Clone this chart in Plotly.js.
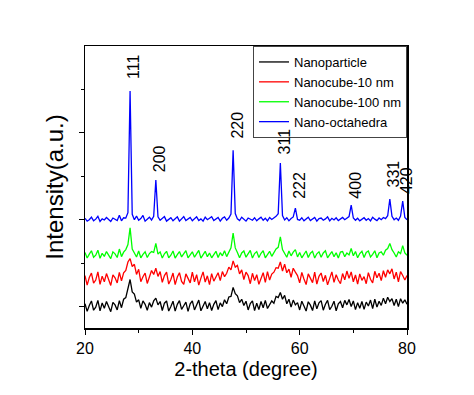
<!DOCTYPE html>
<html>
<head>
<meta charset="utf-8">
<script src="https://cdn.plot.ly/plotly-3.0.1.min.js"></script>
<style>html,body{margin:0;padding:0;background:#fff;}#chart{width:474px;height:395px;}</style>
</head>
<body>
<div id="chart"></div>
<script>
// 2-theta sampling (degrees)
var twoTheta = [
 20.0,20.4,20.8,21.2,21.6,22.0,22.4,22.8,23.2,23.6,
 24.0,24.4,24.8,25.2,25.6,26.0,26.4,26.8,27.2,27.6,
 28.0,28.4,28.8,29.2,29.6,30.0,30.4,30.8,31.2,31.6,
 32.0,32.4,32.8,33.2,33.6,34.0,34.4,34.8,35.2,35.6,
 36.0,36.4,36.8,37.2,37.6,38.0,38.4,38.8,39.2,39.6,
 40.0,40.4,40.8,41.2,41.6,42.0,42.4,42.8,43.2,43.6,
 44.0,44.4,44.8,45.2,45.6,46.0,46.4,46.8,47.2,47.6,
 48.0,48.4,48.8,49.2,49.6,50.0,50.4,50.8,51.2,51.6,
 52.0,52.4,52.8,53.2,53.6,54.0,54.4,54.8,55.2,55.6,
 56.0,56.4,56.8,57.2,57.6,58.0,58.4,58.8,59.2,59.6,
 60.0,60.4,60.8,61.2,61.6,62.0,62.4,62.8,63.2,63.6,
 64.0,64.4,64.8,65.2,65.6,66.0,66.4,66.8,67.2,67.6,
 68.0,68.4,68.8,69.2,69.6,70.0,70.4,70.8,71.2,71.6,
 72.0,72.4,72.8,73.2,73.6,74.0,74.4,74.8,75.2,75.6,
 76.0,76.4,76.8,77.2,77.6,78.0,78.4,78.8,79.2,79.6,
 80.0
];

var nanoparticle = [
 8.6,5.9,8.0,9.6,6.3,7.4,9.8,6.1,8.9,7.0,
 9.4,7.6,5.8,9.1,8.2,6.4,9.7,7.2,10.2,10.8,
 14.2,17.2,12.8,12.0,9.2,10.0,7.0,9.6,8.4,6.3,
 9.0,7.4,9.6,10.6,8.2,9.4,6.2,8.8,9.6,6.0,
 7.6,9.5,6.0,8.4,9.7,6.6,7.9,9.2,5.9,8.6,
 9.6,6.4,8.2,9.9,6.1,7.5,9.4,6.8,9.0,6.2,
 8.4,9.7,6.5,8.9,7.6,10.0,8.6,11.0,11.2,14.4,
 12.2,11.4,9.0,10.2,8.0,9.5,6.4,8.7,9.6,6.2,
 8.8,6.5,9.4,7.2,9.8,6.9,8.4,9.6,8.8,11.2,
 10.8,12.6,10.2,11.6,8.6,10.2,7.4,9.9,8.2,9.0,
 6.4,9.5,7.8,6.0,9.3,8.1,6.2,9.6,6.8,8.9,
 9.7,6.3,8.4,9.8,6.5,7.7,9.5,6.1,8.6,9.4,
 7.2,9.8,8.2,10.1,7.6,9.6,6.5,9.0,7.0,9.4,
 6.6,9.2,7.8,9.9,6.9,10.2,7.4,9.5,8.0,10.6,
 8.6,10.9,9.4,10.4,8.0,10.2,7.6,10.4,8.8,10.0,
 8.4
];

var nanocube10 = [
 18.6,15.2,17.9,19.5,15.9,17.0,19.9,15.5,18.4,16.4,
 19.3,17.3,15.1,18.8,17.8,16.0,19.7,16.7,19.6,20.4,
 23.4,24.6,21.8,22.6,19.0,20.8,16.4,18.2,19.5,15.8,
 18.0,20.4,19.0,21.2,18.3,20.0,16.2,18.6,19.8,15.6,
 17.2,19.5,15.4,18.1,19.6,16.5,15.5,19.2,17.6,16.0,
 19.8,16.4,18.9,15.2,17.7,19.9,16.3,18.5,15.4,19.3,
 16.6,18.0,19.6,16.8,20.0,18.2,19.4,21.6,20.6,23.8,
 21.6,22.2,19.2,20.6,17.2,19.8,18.6,15.7,19.4,16.8,
 18.9,15.5,17.4,19.6,16.2,20.0,17.0,19.1,19.8,21.4,
 21.2,23.4,20.2,22.6,19.6,20.9,18.0,21.2,19.8,18.6,
 16.0,19.7,17.4,15.4,19.2,17.9,16.1,19.8,15.6,18.3,
 19.5,16.5,18.7,15.3,17.8,19.9,16.2,18.9,17.0,15.7,
 19.3,17.1,20.2,17.6,19.9,16.4,18.8,15.6,19.2,16.9,
 18.2,15.7,19.6,17.3,16.0,20.1,17.8,19.4,16.8,20.3,
 18.0,20.6,19.2,21.0,17.4,19.8,16.4,20.0,18.6,17.0,
 18.6
];

var nanocube100 = [
 26.8,24.8,26.2,27.4,25.1,25.8,27.6,24.7,26.5,25.4,
 27.1,25.9,24.6,27.0,26.3,25.0,28.0,25.3,26.9,27.8,
 29.6,35.5,28.0,26.6,25.2,27.3,24.9,26.1,27.0,25.0,
 26.4,27.1,26.8,30.0,26.2,27.0,24.8,26.3,27.2,24.9,
 25.8,27.3,24.8,26.0,27.1,25.2,26.5,27.4,24.9,26.2,
 27.0,25.1,26.4,27.5,24.8,25.9,27.2,25.3,26.6,24.9,
 26.3,27.2,25.0,26.7,25.6,27.4,25.3,27.0,28.4,33.7,
 28.4,26.8,24.9,26.6,27.3,25.1,26.2,27.5,24.8,26.4,
 27.1,25.0,26.5,27.4,24.9,26.0,27.2,25.4,26.6,28.0,
 28.6,32.3,27.8,26.4,25.1,27.3,25.6,26.9,27.8,25.2,
 26.8,24.9,26.1,27.3,25.0,26.5,27.2,24.8,26.3,27.0,
 25.1,26.6,27.4,24.9,26.0,27.1,25.3,26.7,24.8,26.9,
 27.1,25.3,26.6,25.9,28.2,25.6,27.1,24.9,26.4,27.2,
 25.0,26.8,27.3,25.2,26.1,27.4,24.9,26.6,27.0,25.8,
 27.6,28.2,30.0,27.8,26.6,25.2,27.0,26.4,29.2,26.6,
 25.8
];

var nanoOctahedra = [
 38.9,37.9,38.4,39.3,38.0,38.6,39.6,37.8,38.7,38.3,
 39.2,38.5,37.8,39.0,38.6,38.1,40.0,38.0,39.1,39.0,
 40.9,84.0,40.3,38.4,39.7,38.2,38.8,39.9,37.9,38.7,
 39.3,38.3,39.6,52.5,39.4,38.2,38.9,39.5,37.9,38.6,
 39.1,38.0,38.6,39.4,37.9,38.8,39.5,38.1,38.5,39.2,
 38.0,38.9,39.4,38.1,38.7,37.9,39.3,38.4,38.8,39.5,
 38.1,38.6,39.2,37.9,38.9,39.4,38.2,39.0,40.4,63.0,
 40.6,38.7,38.1,39.3,38.5,37.9,39.0,38.6,38.2,39.1,
 38.0,38.7,39.3,38.2,38.9,38.0,39.2,38.5,39.0,39.6,
 40.5,58.5,39.9,38.3,39.1,38.0,38.8,39.4,42.5,38.5,
 38.2,39.1,38.0,38.7,39.3,38.1,38.6,39.2,37.9,38.8,
 39.0,38.2,38.7,39.4,38.0,38.9,38.3,39.1,38.1,38.6,
 39.2,38.4,38.9,39.5,43.6,39.0,38.2,38.9,38.0,38.7,
 39.1,38.2,38.8,38.0,39.3,38.6,38.1,39.0,38.4,39.2,
 38.8,39.8,45.7,39.6,38.4,39.0,38.2,39.7,45.0,39.2,
 38.4
];

var seriesNames = ['Nanoparticle', 'Nanocube-10 nm', 'Nanocube-100 nm', 'Nano-octahedra'];
var seriesColors = ['#000000', '#ff0000', '#00ff00', '#0000ff'];

// Miller-index labels above the nano-octahedra peaks
var peakLabels = ['111', '200', '220', '311', '222', '400', '331', '420'];
var peakPos    = [28.4, 33.2, 47.6, 56.4, 59.2, 69.6, 76.8, 79.2];
var labelBase  = [88.0, 55.0, 66.7, 61.3, 45.4, 45.4, 49.6, 47.2];

var ys = [nanoparticle, nanocube10, nanocube100, nanoOctahedra];
var traces = ys.map(function (y, k) {
  return {
    type: 'scatter', mode: 'lines', x: twoTheta, y: y, name: seriesNames[k],
    line: {color: seriesColors[k], width: 1.3}
  };
});

var annFont = {family: 'Liberation Sans, Arial, sans-serif', size: 16, color: '#000'};
var annotations = peakLabels.map(function (t, i) {
  return {
    x: peakPos[i], y: labelBase[i], xref: 'x', yref: 'y', text: t,
    showarrow: false, textangle: -90, xanchor: 'center', yanchor: 'bottom',
    xshift: 4, borderpad: 0, font: annFont
  };
});

var layout = {
  width: 474, height: 395,
  margin: {l: 85, r: 67, t: 46, b: 67},
  paper_bgcolor: '#fff', plot_bgcolor: '#fff',
  showlegend: true,
  legend: {
    x: 1, y: 1, xanchor: 'right', yanchor: 'top',
    bgcolor: '#fff', bordercolor: '#444', borderwidth: 1,
    font: {family: 'Liberation Sans, Arial, sans-serif', size: 13, color: '#000'},
    tracegroupgap: 0, itemwidth: 30
  },
  xaxis: {
    range: [20, 80], tickmode: 'linear', tick0: 20, dtick: 20,
    ticks: 'outside', ticklen: 5, tickwidth: 1, tickcolor: '#000',
    minor: {dtick: 10, ticks: 'outside', ticklen: 3, tickcolor: '#000', showgrid: false},
    showline: true, linecolor: '#000', linewidth: 1.5, mirror: true,
    showgrid: false, zeroline: false,
    tickfont: {family: 'Liberation Sans, Arial, sans-serif', size: 16, color: '#000'},
    title: {text: '2-theta (degree)', font: {family: 'Liberation Sans, Arial, sans-serif', size: 20, color: '#000'}, standoff: 6}
  },
  yaxis: {
    range: [0, 100], tickmode: 'linear', tick0: 7.45, dtick: 30.9,
    ticks: 'outside', ticklen: 5, tickwidth: 1, tickcolor: '#000', showticklabels: false,
    minor: {tick0: 7.45, dtick: 15.45, ticks: 'outside', ticklen: 3, tickcolor: '#000', showgrid: false},
    showline: true, linecolor: '#000', linewidth: 1.5, mirror: true,
    showgrid: false, zeroline: false,
    title: {text: 'Intensity(a.u.)', font: {family: 'Liberation Sans, Arial, sans-serif', size: 24, color: '#000'}, standoff: 8}
  },
  annotations: annotations
};

Plotly.newPlot('chart', traces, layout, {displayModeBar: false, staticPlot: true});
</script>
</body>
</html>
